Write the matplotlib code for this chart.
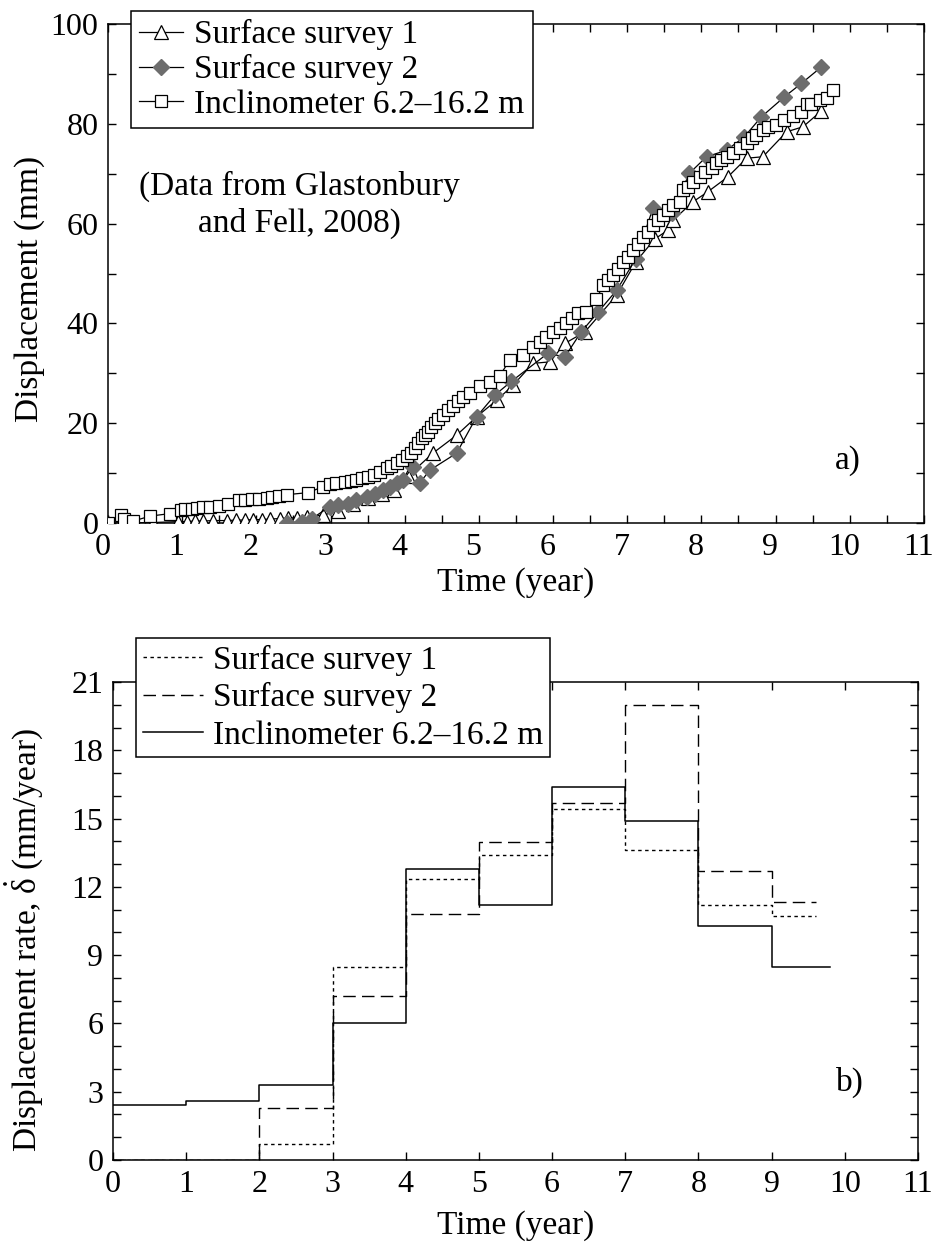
import numpy as np
import matplotlib
matplotlib.use("Agg")
import matplotlib.pyplot as plt
from matplotlib.ticker import MultipleLocator
from matplotlib.transforms import ScaledTranslation

plt.rcParams['font.family'] = ['Liberation Serif', 'DejaVu Serif']
plt.rcParams['mathtext.fontset'] = 'custom'
plt.rcParams['mathtext.rm'] = 'Liberation Serif'
plt.rcParams['mathtext.it'] = 'Liberation Serif'
plt.rcParams['mathtext.bf'] = 'Liberation Serif:bold'

# ---- panel a) cumulative displacement (mm) ----
survey1_t = [0.0, 0.6, 0.95, 1.06, 1.17, 1.28, 1.42, 1.60, 1.73, 1.85, 1.96, 2.07, 2.18,
             2.32, 2.43, 2.55, 2.68, 2.90, 3.10, 3.30, 3.50, 3.70, 3.85, 4.05, 4.38,
             4.70, 4.97, 5.24, 5.46, 5.73, 5.96, 6.16, 6.43, 6.86, 7.12, 7.37, 7.55,
             7.62, 7.89, 8.09, 8.36, 8.61, 8.83, 9.15, 9.37, 9.62]
survey1_d = [0.0, 0.1, 0.3, 0.3, 0.4, 0.4, 0.5, 0.5, 0.6, 0.6, 0.7, 0.7, 0.8,
             0.9, 1.0, 1.1, 1.3, 1.6, 2.4, 3.8, 5.0, 5.8, 6.6, 9.5, 14.0,
             17.6, 21.3, 24.6, 27.6, 32.0, 32.3, 36.0, 38.3, 45.7, 52.4, 56.9, 58.7,
             60.7, 64.4, 66.4, 69.4, 73.1, 73.4, 78.4, 79.4, 82.6]

survey2_t = [2.41, 2.61, 2.75, 2.99, 3.10, 3.24, 3.35, 3.49, 3.60, 3.71, 3.80, 3.89,
             3.98, 4.11, 4.20, 4.34, 4.70, 4.97, 5.22, 5.44, 5.93, 6.16, 6.38, 6.61,
             6.86, 7.12, 7.35, 7.60, 7.84, 8.07, 8.34, 8.58, 8.81, 9.12, 9.35, 9.62]
survey2_d = [0.0, 0.3, 0.9, 3.3, 3.6, 3.9, 4.6, 5.3, 5.9, 6.6, 7.3, 8.0,
             8.6, 11.3, 8.0, 10.6, 14.0, 21.3, 25.7, 28.4, 34.0, 33.3, 38.3, 42.3,
             46.7, 53.0, 63.2, 62.1, 70.1, 73.4, 74.7, 77.4, 81.4, 85.4, 88.1, 91.4]

incl_t = [0.0, 0.17, 0.22, 0.34, 0.57, 0.84, 0.99, 1.04, 1.13, 1.20, 1.28, 1.37, 1.49,
          1.62, 1.76, 1.85, 1.94, 2.03, 2.14, 2.21, 2.30, 2.42, 2.70, 2.90, 2.99, 3.08,
          3.19, 3.28, 3.35, 3.42, 3.51, 3.58, 3.67, 3.76, 3.82, 3.89, 3.96, 4.03, 4.09,
          4.14, 4.18, 4.23, 4.27, 4.32, 4.36, 4.41, 4.45, 4.52, 4.59, 4.65, 4.72, 4.79,
          4.88, 5.01, 5.15, 5.28, 5.42, 5.60, 5.73, 5.82, 5.91, 6.00, 6.09, 6.18, 6.25,
          6.34, 6.45, 6.58, 6.68, 6.74, 6.81, 6.88, 6.94, 7.01, 7.08, 7.15, 7.21, 7.28,
          7.35, 7.42, 7.48, 7.55, 7.62, 7.71, 7.75, 7.82, 7.89, 7.98, 8.05, 8.14, 8.20,
          8.27, 8.34, 8.43, 8.52, 8.61, 8.68, 8.74, 8.83, 8.90, 9.01, 9.12, 9.24, 9.35,
          9.42, 9.48, 9.60, 9.69, 9.78]
incl_d = [0.0, 1.6, 0.8, 0.4, 1.4, 1.9, 2.6, 2.8, 2.9, 3.0, 3.3, 3.3, 3.5,
          3.8, 4.6, 4.7, 4.8, 4.9, 5.1, 5.2, 5.4, 5.7, 6.1, 7.3, 7.8, 8.0,
          8.3, 8.5, 8.7, 9.1, 9.3, 9.6, 10.3, 11.0, 11.4, 12.0, 12.6, 13.4, 14.1,
          15.0, 16.0, 17.0, 17.6, 18.3, 19.3, 20.1, 20.8, 21.6, 22.6, 23.4, 24.5, 25.3,
          26.0, 27.5, 28.3, 29.5, 32.7, 33.7, 35.3, 36.3, 37.3, 38.3, 39.0, 40.0, 41.0,
          42.0, 42.3, 44.8, 47.7, 48.7, 49.7, 51.0, 52.4, 53.4, 54.7, 56.0, 57.4, 58.4,
          59.7, 60.7, 61.7, 62.7, 63.7, 64.4, 66.7, 67.4, 68.4, 69.4, 70.4, 71.1, 72.1,
          72.7, 73.4, 74.1, 75.1, 76.1, 77.1, 77.8, 78.8, 79.4, 79.8, 80.8, 81.6, 82.4,
          84.0, 84.0, 84.8, 85.1, 86.8]

# ---- panel b) yearly displacement rate (mm/year) ----
rate1_edges = [0, 1, 2, 3, 4, 5, 6, 7, 8, 9, 9.6]
rate1 = [0.0, 0.0, 0.7, 8.5, 12.35, 13.4, 15.4, 13.6, 11.2, 10.7]
rate2_edges = [0, 1, 2, 3, 4, 5, 6, 7, 8, 9, 9.6]
rate2 = [0.0, 0.0, 2.3, 7.2, 10.8, 13.95, 15.7, 20.0, 12.7, 11.35]
rate_incl_edges = [0, 1, 2, 3, 4, 5, 6, 7, 8, 9, 9.8]
rate_incl = [2.4, 2.6, 3.3, 6.0, 12.8, 11.2, 16.4, 14.9, 10.3, 8.5]

labels_a = ['Surface survey 1', 'Surface survey 2', 'Inclinometer 6.2\u201316.2 m']

FS = 24
TFS = 23

fig = plt.figure(figsize=(9.36, 12.43), dpi=100)
ax1 = fig.add_axes([0.1154, 0.5792, 0.8716, 0.4015])
ax2 = fig.add_axes([0.1207, 0.0668, 0.8601, 0.3845])


def style_axes(ax):
    for s in ax.spines.values():
        s.set_linewidth(1.1)
    ax.tick_params(which='both', direction='in', top=True, right=True,
                   length=6, width=1.0, labelsize=TFS, pad=7)


ax1.plot(survey1_t, survey1_d, color='black', lw=0.9, marker='^', ms=10,
         mfc='white', mec='black', mew=0.9, label=labels_a[0], zorder=3)
ax1.plot(survey2_t, survey2_d, color='black', lw=0.9, marker='D', ms=8,
         mfc='#6d6d6d', mec='#6d6d6d', label=labels_a[1], zorder=4)
ax1.plot(incl_t, incl_d, color='black', lw=0.9, marker='s', ms=9,
         mfc='white', mec='black', mew=0.9, label=labels_a[2], zorder=5)

ax1.set_xlim(0, 11)
ax1.set_ylim(0, 100)
ax1.xaxis.set_major_locator(MultipleLocator(1))
ax1.xaxis.set_minor_locator(MultipleLocator(0.5))
ax1.yaxis.set_major_locator(MultipleLocator(20))
ax1.yaxis.set_minor_locator(MultipleLocator(10))
style_axes(ax1)
# the x labels of panel a) sit a little left of their ticks
shift = ScaledTranslation(-4 / 72, 0, fig.dpi_scale_trans)
for lab in ax1.get_xticklabels():
    lab.set_transform(lab.get_transform() + shift)
ax1.set_xlabel('Time (year)', fontsize=FS, labelpad=4)
ax1.set_ylabel('Displacement (mm)', fontsize=FS)
ax1.yaxis.set_label_coords(-0.077, 0.47)
ax1.text(0.235, 0.637, '(Data from Glastonbury\nand Fell, 2008)', transform=ax1.transAxes,
         ha='center', va='center', fontsize=FS, linespacing=1.25)
ax1.text(0.907, 0.126, 'a)', transform=ax1.transAxes, ha='center', va='center', fontsize=FS)
leg1 = ax1.legend(loc='upper left', bbox_to_anchor=(131 / 936, 1 - 11 / 1243),
                  bbox_transform=fig.transFigure, fontsize=FS, frameon=True,
                  fancybox=False, edgecolor='black', framealpha=1, handlelength=1.3,
                  handletextpad=0.35, borderpad=0.25, labelspacing=0.12, borderaxespad=0)
leg1.get_frame().set_linewidth(1.1)

ax2.plot(rate1_edges, rate1 + [rate1[-1]], drawstyle='steps-post', color='black',
         lw=1.0, dashes=(2.5, 2.5), label=labels_a[0])
ax2.plot(rate2_edges, rate2 + [rate2[-1]], drawstyle='steps-post', color='black',
         lw=1.0, dashes=(9, 4.5), label=labels_a[1])
ax2.plot(rate_incl_edges, rate_incl + [rate_incl[-1]], drawstyle='steps-post',
         color='black', lw=1.1, label=labels_a[2])
ax2.set_xlim(0, 11)
ax2.set_ylim(0, 21)
ax2.xaxis.set_major_locator(MultipleLocator(1))
ax2.yaxis.set_major_locator(MultipleLocator(3))
ax2.yaxis.set_minor_locator(MultipleLocator(1))
style_axes(ax2)
ax2.set_xlabel('Time (year)', fontsize=FS, labelpad=8)
ax2.set_ylabel(r'Displacement rate, $\dot{\delta}$ (mm/year)', fontsize=FS)
ax2.yaxis.set_label_coords(-0.084, 0.46)
ax2.text(0.916, 0.163, 'b)', transform=ax2.transAxes, ha='center', va='center', fontsize=FS)
leg2 = ax2.legend(loc='upper left', bbox_to_anchor=(136 / 936, 1 - 638 / 1243),
                  bbox_transform=fig.transFigure, fontsize=FS, frameon=True,
                  fancybox=False, edgecolor='black', framealpha=1, handlelength=1.8,
                  handletextpad=0.3, borderpad=0.2, labelspacing=0.2, borderaxespad=0)
leg2.get_frame().set_linewidth(1.1)

fig.savefig('out.png', dpi=100, facecolor='white')
